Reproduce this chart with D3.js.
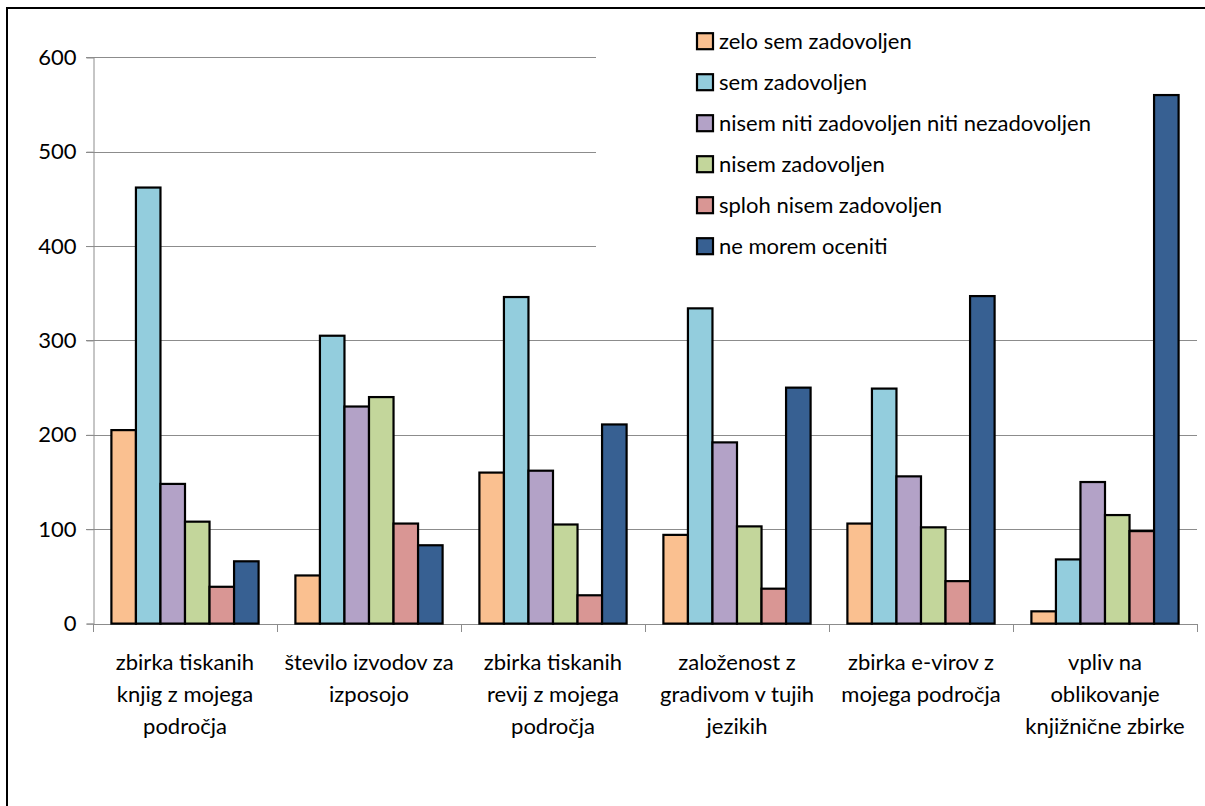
<!DOCTYPE html>
<html>
<head>
<meta charset="utf-8">
<script src="https://cdn.jsdelivr.net/npm/d3@7"></script>
<style>
  html, body { margin: 0; padding: 0; background: #fff; }
  svg { display: block; font-family: Lato, "Open Sans", sans-serif; }
</style>
</head>
<body>
<svg id="chart" width="1205" height="806"></svg>
<script>
// Categories (each label broken into its display lines)
const categories = [
  ["zbirka tiskanih", "knjig z mojega", "področja"],
  ["število izvodov za", "izposojo"],
  ["zbirka tiskanih", "revij z mojega", "področja"],
  ["založenost z", "gradivom v tujih", "jezikih"],
  ["zbirka e-virov z", "mojega področja"],
  ["vpliv na", "oblikovanje", "knjižnične zbirke"]
];

const seriesNames = [
  "zelo sem zadovoljen",
  "sem zadovoljen",
  "nisem niti zadovoljen niti nezadovoljen",
  "nisem zadovoljen",
  "sploh nisem zadovoljen",
  "ne morem oceniti"
];

// Values per series, one per category
const zeloSemZadovoljen   = [205, 51, 160, 94, 106, 13];
const semZadovoljen       = [462, 305, 346, 334, 249, 68];
const nitiNiti            = [148, 230, 162, 192, 156, 150];
const nisemZadovoljen     = [108, 240, 105, 103, 102, 115];
const splohNisem          = [39, 106, 30, 37, 45, 98];
const neMoremOceniti      = [66, 83, 211, 250, 347, 560];

const seriesValues = [zeloSemZadovoljen, semZadovoljen, nitiNiti, nisemZadovoljen, splohNisem, neMoremOceniti];
const seriesColors = ["#FAC090", "#93CDDD", "#B3A2C7", "#C3D69B", "#D99694", "#376092"];

const yTicks = [0, 100, 200, 300, 400, 500, 600];

const FONT = 22;
const svg = d3.select("#chart");

// Outer chart frame
svg.append("rect")
  .attr("x", 7).attr("y", 8)
  .attr("width", 1220).attr("height", 820)
  .attr("fill", "#fff").attr("stroke", "#000").attr("stroke-width", 2);

const plot = { left: 93, right: 1197, top: 57.3, bottom: 623.6 };

const catIdx = d3.range(categories.length);
const x0 = d3.scaleBand().domain(catIdx).range([plot.left, plot.right]).padding(0);
const x1 = d3.scaleBand().domain(d3.range(seriesNames.length))
  .range([0, x0.bandwidth()]).paddingInner(0).paddingOuter(0.75);
const y = d3.scaleLinear().domain([0, 600]).range([plot.bottom, plot.top]);

// Gridlines
svg.append("g").selectAll("line").data(yTicks.filter(d => d > 0)).join("line")
  .attr("x1", plot.left - 7).attr("x2", plot.right)
  .attr("y1", d => Math.round(y(d)) + 0.5).attr("y2", d => Math.round(y(d)) + 0.5)
  .attr("stroke", "#8c8c8c").attr("stroke-width", 1);

// Legend background (hides gridlines behind it)
svg.append("rect")
  .attr("x", 596).attr("y", 20).attr("width", 601).attr("height", 250)
  .attr("fill", "#fff");

// Y axis
const yAxis = d3.axisLeft(y).tickValues(yTicks).tickSize(7).tickPadding(10);
const gy = svg.append("g").attr("transform", `translate(${plot.left + 0.5},0)`).call(yAxis);
gy.select(".domain").attr("stroke", "#8c8c8c");
gy.selectAll(".tick line").attr("stroke", "#8c8c8c");
gy.selectAll(".tick text").attr("font-size", FONT).attr("fill", "#000")
  .attr("font-family", "Lato, 'Open Sans', sans-serif");

// X axis line and category separators
const gx = svg.append("g");
gx.append("line")
  .attr("x1", plot.left).attr("x2", plot.right)
  .attr("y1", Math.round(plot.bottom) + 0.5).attr("y2", Math.round(plot.bottom) + 0.5)
  .attr("stroke", "#8c8c8c");
const boundaries = catIdx.map(i => x0(i)).concat([x0(catIdx.length - 1) + x0.bandwidth()]);
gx.selectAll("line.sep").data(boundaries).join("line").attr("class", "sep")
  .attr("x1", d => Math.round(d) + 0.5).attr("x2", d => Math.round(d) + 0.5)
  .attr("y1", Math.round(plot.bottom)).attr("y2", Math.round(plot.bottom) + 8)
  .attr("stroke", "#8c8c8c");

// Bars
const groups = svg.append("g").selectAll("g").data(catIdx).join("g")
  .attr("transform", i => `translate(${x0(i)},0)`);
groups.selectAll("rect")
  .data(i => seriesValues.map((vals, s) => ({ s, v: vals[i] })))
  .join("rect")
  .attr("x", d => x1(d.s))
  .attr("y", d => y(d.v))
  .attr("width", x1.bandwidth())
  .attr("height", d => y(0) - y(d.v))
  .attr("fill", d => seriesColors[d.s])
  .attr("stroke", "#000").attr("stroke-width", 2.2);

// Category labels
const lab = svg.append("g").selectAll("text").data(catIdx).join("text")
  .attr("text-anchor", "middle")
  .attr("font-size", FONT).attr("fill", "#000");
lab.each(function(i) {
  const t = d3.select(this);
  categories[i].forEach((line, k) => {
    t.append("tspan")
      .attr("x", x0(i) + x0.bandwidth() / 2)
      .attr("y", 670 + k * 32)
      .text(line);
  });
});

// Legend
const legend = svg.append("g").selectAll("g").data(seriesNames).join("g")
  .attr("transform", (d, i) => `translate(697,${40.7 + i * 41})`);
legend.append("rect")
  .attr("x", 0).attr("y", -7.5).attr("width", 16).attr("height", 16)
  .attr("fill", (d, i) => seriesColors[i])
  .attr("stroke", "#000").attr("stroke-width", 2.2);
legend.append("text")
  .attr("x", 22).attr("y", 8.5)
  .attr("font-size", FONT).attr("fill", "#000")
  .text(d => d);
</script>
</body>
</html>
